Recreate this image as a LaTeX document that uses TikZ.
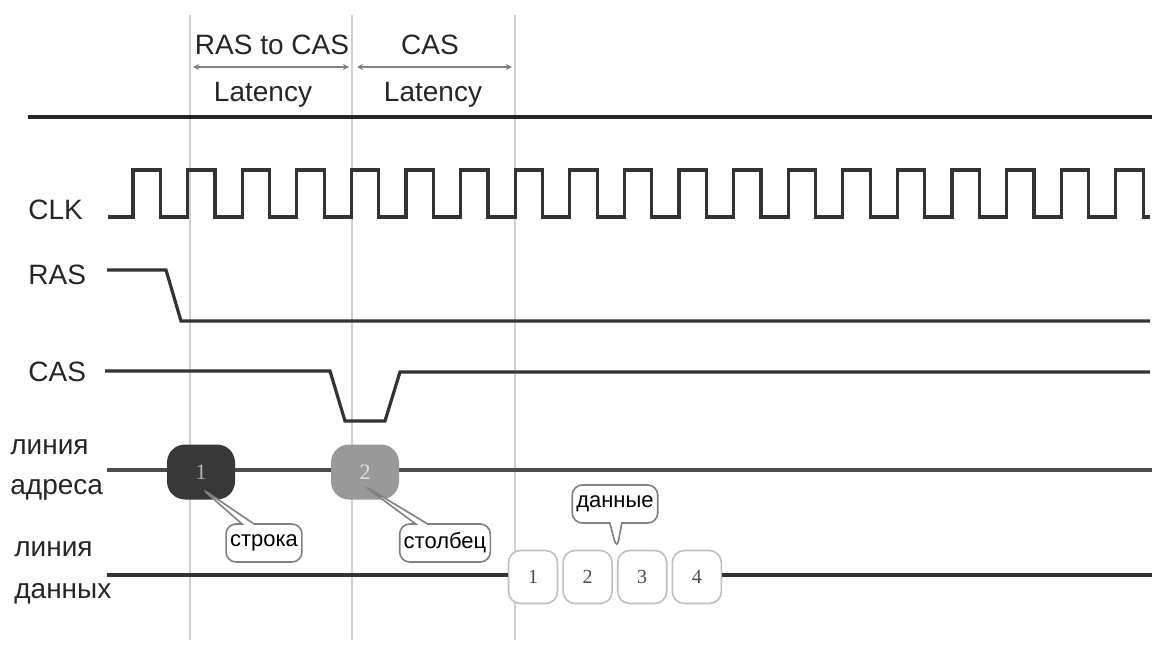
\documentclass[tikz,border=0pt]{standalone}
\usepackage{fontspec}
\setmainfont{Liberation Sans}
\newfontfamily\numfont{Liberation Serif}
\usetikzlibrary{arrows.meta, positioning, shapes.callouts}
\tikzset{
    timing/.style={x=0.5pt, y=-0.5pt, font=\fontsize{14}{16}\selectfont, text=black!85},
    wave/.style={line width=1.6pt, draw=black!80},
    guide/.style={line width=1pt, draw=black!18},
    span/.style={{Stealth[length=3pt,width=3pt]}-{Stealth[length=3pt,width=3pt]}, line width=1pt, draw=black!50},
    siglabel/.style={anchor=west, inner sep=0pt},
    addrbox/.style={rounded corners=9pt, minimum width=34pt, minimum height=27.5pt, inner sep=0pt, font=\numfont\fontsize{11}{12}\selectfont},
    databox/.style={draw=black!25, line width=0.8pt, rounded corners=6pt, minimum width=24.5pt, minimum height=26.5pt, fill=white, inner sep=0pt, font=\numfont\fontsize{10}{12}\selectfont, text=black!70},
    tag/.style={rectangle callout, draw=black!50, line width=0.8pt, rounded corners=5pt, fill=white, inner sep=2pt, minimum height=19pt, callout pointer width=6pt, font=\fontsize{11}{12}\selectfont, text=black},
}

\begin{document}
\begin{tikzpicture}[timing]
    \useasboundingbox (0,0) rectangle (1152,647);

    % guides and latency spans
    \foreach \gx [count=\i] in {190, 352, 515} {
        \draw[guide] (\gx,15) -- (\gx,640);
    }
    \coordinate (s1) at (193,67);
    \coordinate (s2) at (349,67);
    \coordinate (s3) at (357,67);
    \coordinate (s4) at (512,67);
    \draw[span] (s1) -- (s2);
    \draw[span] (s3) -- (s4);
    \node (rc)  at (272,45) {RAS to CAS};
    \node (rcl) at (263,95) {Latency};
    \node (cl)  at (430,45) {CAS};
    \node (cll) at (433,95) {Latency};

    \draw[line width=2pt, black!85] (28,117) -- (1152,117);

    % signal names
    \node[siglabel] (clk) at (28,210) {CLK};
    \node[siglabel] (ras) at (28,275) {RAS};
    \node[siglabel] (cas) at (28,372) {CAS};
    \node[siglabel] (al1) at (10,447) {линия};
    \node[siglabel] (al2) at (10,490) {адреса};
    \node[siglabel] (dl1) at (14,549) {линия};
    \node[siglabel] (dl2) at (14,594) {данных};

    % waveforms
    \draw[wave] (108,217)
        \foreach \k in {0,...,18} {
            -- ({133+54.6*\k},217) -- ({133+54.6*\k},170)
            -- ({160.3+54.6*\k},170) -- ({160.3+54.6*\k},217)
        } -- (1150,217);
    \draw[wave] (107,270) -- (166,270) -- (181,321) -- (1150,321);
    \draw[wave] (105,371) -- (330,371) -- (345,421) -- (385,421)
        -- (400,372) -- (1150,372);

    % address line
    \coordinate (astart) at (107,470);
    \coordinate (aend)   at (1152,470);
    \draw[wave, black!70] (astart) -- (aend);
    \node[addrbox, fill=black!78, text=black!30] (a1) at (201,472) {1};
    \node[addrbox, fill=black!40, text=black!12] (a2) at (365,472) {2};
    \node[tag, callout absolute pointer={(201,488)}] (row) at (264,543) {строка};
    \node[tag, callout absolute pointer={(363,485)}] (col) at (445,543) {столбец};

    % data line
    \coordinate (dstart) at (107,575);
    \coordinate (dend)   at (1152,575);
    \node[databox] (d1) at (533,577) {1};
    \node[databox, right=2pt of d1] (d2) {2};
    \node[databox, right=2pt of d2] (d3) {3};
    \node[databox, right=2pt of d3] (d4) {4};
    \draw[wave] (dstart) -- (d1.west |- dstart);
    \draw[wave] (d4.east |- dend) -- (dend);
    \node[tag, callout absolute pointer={(d3.north west)}] (dat) at (615,504) {данные};
\end{tikzpicture}
\end{document}
